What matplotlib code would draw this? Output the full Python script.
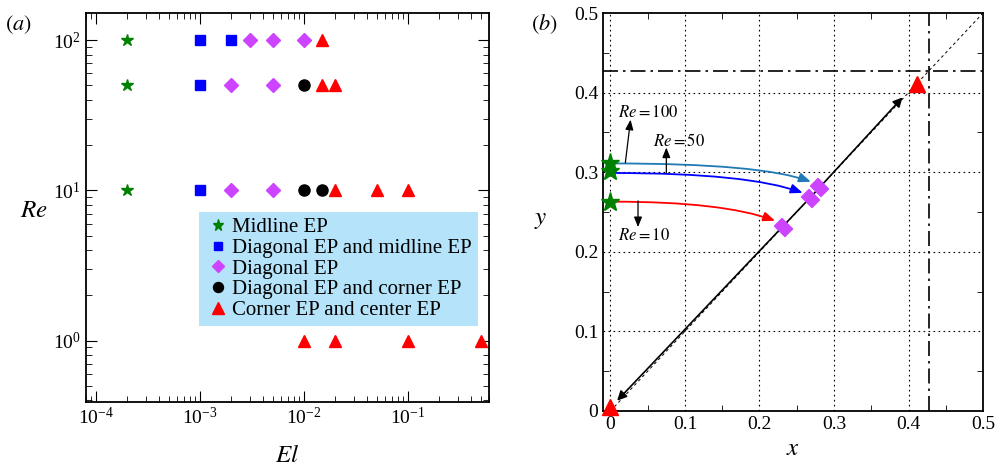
import matplotlib
matplotlib.use("Agg")
import matplotlib.pyplot as plt
import numpy as np
from matplotlib.ticker import LogLocator, NullFormatter, MultipleLocator

plt.rcParams['font.family'] = ['Liberation Serif', 'DejaVu Serif']
plt.rcParams['mathtext.fontset'] = 'stix'

# ---------------- data (a) ----------------
mid_El = [2e-4, 2e-4, 2e-4]
mid_Re = [100, 50, 10]
diagmid_El = [1e-3, 2e-3, 1e-3, 1e-3]
diagmid_Re = [100, 100, 50, 10]
diag_El = [3e-3, 5e-3, 1e-2, 2e-3, 5e-3, 2e-3, 5e-3]
diag_Re = [100, 100, 100, 50, 50, 10, 10]
diagcorner_El = [1e-2, 1e-2, 1.5e-2]
diagcorner_Re = [50, 10, 10]
corner_El = [1.5e-2, 1.5e-2, 2e-2, 2e-2, 5e-2, 1e-1, 1e-2, 2e-2, 1e-1, 5e-1]
corner_Re = [100, 50, 50, 10, 10, 10, 1, 1, 1, 1]
legend_labels = ["Midline EP", "Diagonal EP and midline EP", "Diagonal EP",
                 "Diagonal EP and corner EP", "Corner EP and center EP"]

# ---------------- data (b) ----------------
star_x = [0.0, 0.0, 0.0]
star_y = [0.312, 0.301, 0.263]
diam_x = [0.280, 0.268, 0.232]
diam_y = [0.281, 0.267, 0.231]
tri_x = [0.0, 0.411]
tri_y = [0.005, 0.411]
crit = 0.427
# curved arrows: (start, end, colour)
curves = [((0.004, 0.311), (0.269, 0.288), '#1f7ab5'),
          ((0.004, 0.299), (0.258, 0.274), '#0000ff'),
          ((0.004, 0.263), (0.221, 0.239), '#ff0000')]
re_labels = ["$Re = 100$", "$Re = 50$", "$Re = 10$"]
re_label_pos = [(0.010, 0.375), (0.057, 0.338), (0.010, 0.220)]
re_arrow_from = [(0.020, 0.312), (0.075, 0.299), (0.037, 0.264)]
re_arrow_to = [(0.027, 0.366), (0.075, 0.331), (0.037, 0.231)]

# tilted rectangle marker (long axis across the diagonal)
_a, _b = 1.0, 0.72
_s = np.sqrt(2)
rect_marker = [((_a + _b) / _s, (_b - _a) / _s), ((_a - _b) / _s, (-_a - _b) / _s),
               (-(_a + _b) / _s, (_a - _b) / _s), ((_b - _a) / _s, (_a + _b) / _s),
               ((_a + _b) / _s, (_b - _a) / _s)]

fig = plt.figure(figsize=(9.99, 4.68), dpi=100)
ax1 = fig.add_axes([0.0861, 0.141, 0.4034, 0.831])
ax2 = fig.add_axes([0.6036, 0.1218, 0.3804, 0.8504])

ms = 8
ax1.plot(mid_El, mid_Re, ls='none', marker='*', color='#008000', ms=ms + 1, label=legend_labels[0])
ax1.plot(diagmid_El, diagmid_Re, ls='none', marker='s', color='#0000ff', ms=ms - 1, label=legend_labels[1])
ax1.plot(diag_El, diag_Re, ls='none', marker='D', color='#cc44ff', ms=ms - 1, label=legend_labels[2])
ax1.plot(diagcorner_El, diagcorner_Re, ls='none', marker='o', color='black', ms=ms, label=legend_labels[3])
ax1.plot(corner_El, corner_Re, ls='none', marker='^', color='#ff0000', ms=ms + 1, label=legend_labels[4])
ax1.set_xscale('log')
ax1.set_yscale('log')
ax1.set_xlim(8e-5, 0.6)
ax1.set_ylim(0.39, 151)
ax1.xaxis.set_major_locator(LogLocator(base=10, numticks=10))
ax1.xaxis.set_minor_locator(LogLocator(base=10, subs=np.arange(2, 10), numticks=10))
ax1.yaxis.set_minor_locator(LogLocator(base=10, subs=np.arange(2, 10), numticks=10))
ax1.xaxis.set_minor_formatter(NullFormatter())
ax1.yaxis.set_minor_formatter(NullFormatter())
ax1.tick_params(which='both', direction='in', top=True, right=True, labelsize=14)
ax1.tick_params(which='major', length=8)
ax1.tick_params(which='minor', length=4)
ax1.set_xlabel('$El$', fontsize=18, labelpad=12)
ax1.set_ylabel('$Re$', fontsize=18, rotation=0, va='center')
ax1.yaxis.set_label_coords(-0.13, 0.49)
leg = ax1.legend(loc='lower left', bbox_to_anchor=(0.28, 0.195), frameon=True, fontsize=15,
                 handletextpad=0.1, handlelength=1.2, borderpad=0.3, labelspacing=0.05,
                 borderaxespad=0, fancybox=False, markerscale=0.9)
leg.get_frame().set_facecolor('#b5e3fa')
leg.get_frame().set_edgecolor('none')
leg.get_frame().set_alpha(1)
fig.text(0.005, 0.935, '$(a)$', fontsize=16)

# ---------------- panel b ----------------
ax2.set_xlim(-0.01, 0.5)
ax2.set_ylim(0, 0.5)
ax2.xaxis.set_minor_locator(MultipleLocator(0.05))
ax2.yaxis.set_minor_locator(MultipleLocator(0.05))
ax2.set_xticks([0, 0.1, 0.2, 0.3, 0.4, 0.5])
ax2.set_xticklabels(['0', '0.1', '0.2', '0.3', '0.4', '0.5'])
ax2.set_yticks([0, 0.1, 0.2, 0.3, 0.4, 0.5])
ax2.set_yticklabels(['0', '0.1', '0.2', '0.3', '0.4', '0.5'])
ax2.tick_params(which='both', direction='in', top=True, right=True, labelsize=14)
ax2.tick_params(which='major', length=0)
ax2.tick_params(which='minor', length=4)
for v in [0, 0.1, 0.2, 0.3, 0.4]:
    ax2.axvline(v, color='black', ls=(0, (1.5, 3)), lw=0.8)
for v in [0.1, 0.2, 0.3, 0.4]:
    ax2.axhline(v, color='black', ls=(0, (1.5, 3)), lw=0.8)
ax2.plot([0, 0.5], [0, 0.5], color='black', ls=(0, (3, 3)), lw=0.7)
ax2.axhline(crit, color='black', ls=(0, (9, 3, 1.5, 3)), lw=1.2)
ax2.axvline(crit, color='black', ls=(0, (9, 3, 1.5, 3)), lw=1.2)

# black arrows along the diagonal
ax2.annotate('', xy=(0.392, 0.394), xytext=(0.27, 0.27),
             arrowprops=dict(arrowstyle='-|>', color='black', lw=1.2, mutation_scale=14, shrinkA=0, shrinkB=0))
ax2.annotate('', xy=(0.009, 0.013), xytext=(0.27, 0.27),
             arrowprops=dict(arrowstyle='-|>', color='black', lw=1.2, mutation_scale=14, shrinkA=0, shrinkB=0))

for (s, e, c) in curves:
    ax2.annotate('', xy=e, xytext=s,
                 arrowprops=dict(arrowstyle='-|>,head_length=0.5,head_width=0.2', color=c, lw=1.3,
                                 mutation_scale=14, shrinkA=0, shrinkB=0,
                                 connectionstyle='angle3,angleA=0,angleB=-20'))

ax2.plot(star_x, star_y, ls='none', marker='*', color='#008000', ms=14, clip_on=False, zorder=5)
ax2.plot(diam_x, diam_y, ls='none', marker=rect_marker, color='#cc44ff', ms=13, zorder=5)
ax2.plot(tri_x, tri_y, ls='none', marker='^', color='#ff0000', ms=11, clip_on=False, zorder=5)

for lab, p, a0, a1 in zip(re_labels, re_label_pos, re_arrow_from, re_arrow_to):
    ax2.text(p[0], p[1], lab, fontsize=12, ha='left', va='center')
    ax2.annotate('', xy=a1, xytext=a0,
                 arrowprops=dict(arrowstyle='-|>,head_length=0.5,head_width=0.2', color='black', lw=0.9,
                                 mutation_scale=12, shrinkA=0, shrinkB=0))

ax2.set_xlabel('$x$', fontsize=18, labelpad=4)
ax2.set_ylabel('$y$', fontsize=18, rotation=0, va='center')
ax2.yaxis.set_label_coords(-0.165, 0.48)
fig.text(0.532, 0.935, '$(b)$', fontsize=16)

for ax in (ax1, ax2):
    for sp in ax.spines.values():
        sp.set_linewidth(1.3)

fig.savefig('out.png', dpi=100)
